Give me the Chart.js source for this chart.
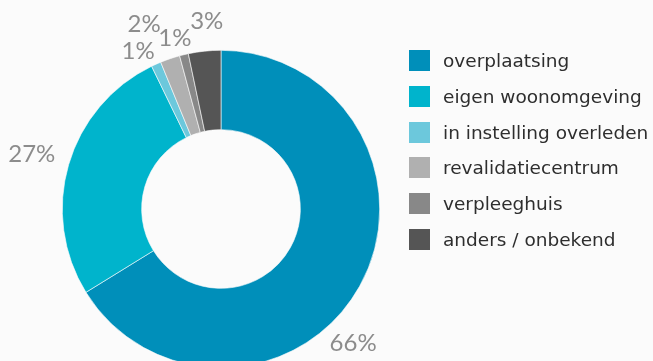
<!DOCTYPE html>
<html>
<head>
<meta charset="utf-8">
<script src="https://cdn.jsdelivr.net/npm/chart.js@4/dist/chart.umd.min.js"></script>
<style>
  html, body { margin: 0; padding: 0; background: #fbfbfb; overflow: hidden; }
  #wrap { position: relative; width: 653px; height: 361px; overflow: hidden; }
  #c { position: absolute; left: 0; top: 0; }
  #legend { position: absolute; left: 409px; top: 50px; font-family: "DejaVu Sans", sans-serif; font-size: 18.5px; color: #2e2e2e; }
  .item { display: flex; align-items: center; height: 21px; margin-bottom: 14.8px; white-space: nowrap; }
  .box { width: 21px; height: 21px; margin-right: 13px; flex: none; }
</style>
</head>
<body>
<div id="wrap">
  <canvas id="c" width="653" height="430"></canvas>
  <div id="legend"></div>
</div>
<script>
const categories = ["overplaatsing", "eigen woonomgeving", "in instelling overleden", "revalidatiecentrum", "verpleeghuis", "anders / onbekend"];
const shares = [66.2, 26.6, 1.0, 2.0, 0.9, 3.3];
const colors = ["#008fba", "#00b4cc", "#6cc8dc", "#b0b0b0", "#888888", "#555555"];

// label placement tweaks (angle shift in degrees, distance from centre in px)
const labelAngleShift = [16.2, 0, -3.6, -3.9, -1.6, 1.6];
const labelDistance = [188, 197, 178, 200, 177, 188];

const outsideLabels = {
  id: 'outsideLabels',
  afterDatasetsDraw(chart) {
    const ctx = chart.ctx;
    const meta = chart.getDatasetMeta(0);
    ctx.save();
    ctx.font = '24px Lato, "Open Sans", sans-serif';
    ctx.fillStyle = '#8c8c8c';
    ctx.textAlign = 'center';
    ctx.textBaseline = 'middle';
    meta.data.forEach((arc, i) => {
      const p = arc.getProps(['x', 'y', 'startAngle', 'endAngle'], true);
      const mid = (p.startAngle + p.endAngle) / 2 + labelAngleShift[i] * Math.PI / 180;
      const d = labelDistance[i];
      const x = p.x + Math.cos(mid) * d;
      const y = p.y + Math.sin(mid) * d;
      ctx.fillText(Math.round(shares[i]) + '%', x, y);
    });
    ctx.restore();
  }
};

new Chart(document.getElementById('c'), {
  type: 'doughnut',
  data: {
    labels: categories,
    datasets: [{
      data: shares,
      backgroundColor: colors,
      borderColor: '#fbfbfb',
      borderWidth: 0.6,
      hoverOffset: 0
    }]
  },
  options: {
    responsive: false,
    animation: false,
    cutout: '50%',
    layout: { padding: { left: 62, top: 50, right: 273, bottom: 62 } },
    plugins: {
      legend: { display: false },
      tooltip: { enabled: false }
    }
  },
  plugins: [outsideLabels]
});

const legend = document.getElementById('legend');
categories.forEach((name, i) => {
  const item = document.createElement('div');
  item.className = 'item';
  const box = document.createElement('span');
  box.className = 'box';
  box.style.background = colors[i];
  const txt = document.createElement('span');
  txt.textContent = name;
  item.appendChild(box);
  item.appendChild(txt);
  legend.appendChild(item);
});
</script>
</body>
</html>
